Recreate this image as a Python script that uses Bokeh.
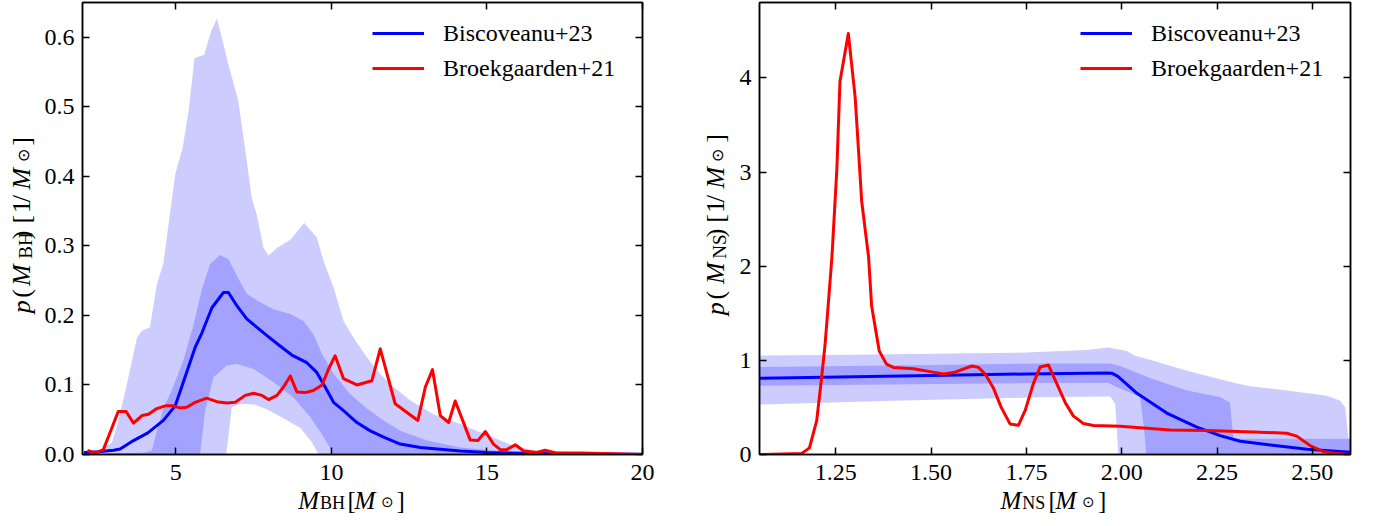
import math
from bokeh.plotting import figure
from bokeh.models import (LinearAxis, FixedTicker, PrintfTickFormatter, Label,
                          Legend, LegendItem, Range1d)
from bokeh.layouts import row, column
from bokeh.embed import file_html
from bokeh.resources import INLINE

FONT = "Liberation Serif"

# ---------------- left panel: black-hole mass ----------------
bh_blue_x = [2.05, 2.5, 3.0, 3.21, 3.64, 4.1, 4.6, 4.98, 5.24, 5.62, 5.84, 6.16, 6.53, 6.69,
             6.96, 7.28, 7.55, 7.93, 8.35, 8.73, 9.21, 9.53, 9.80, 10.07, 10.39, 10.82, 11.25,
             11.68, 12.21, 12.86, 14.14, 15.0, 17.0, 20.0]
bh_blue_y = [0.003, 0.004, 0.006, 0.008, 0.020, 0.031, 0.049, 0.070, 0.104, 0.154, 0.175, 0.211,
             0.233, 0.233, 0.214, 0.195, 0.185, 0.171, 0.156, 0.143, 0.132, 0.118, 0.097, 0.075,
             0.063, 0.046, 0.034, 0.025, 0.015, 0.010, 0.005, 0.003, 0.001, 0.0005]

bh_red_x = [2.16, 2.41, 2.67, 2.89, 3.15, 3.40, 3.64, 3.91, 4.12, 4.39, 4.66, 4.88, 5.14, 5.35,
            5.62, 5.99, 6.32, 6.64, 6.91, 7.23, 7.50, 7.77, 7.98, 8.25, 8.46, 8.68, 8.89, 9.16,
            9.42, 9.70, 9.91, 10.12, 10.39, 10.82, 11.30, 11.57, 12.05, 12.78, 13.02, 13.25,
            13.50, 13.77, 13.98, 14.46, 14.71, 14.95, 15.21, 15.43, 15.64, 15.91, 16.18, 16.6,
            16.87, 17.25, 18.0, 19.0, 20.0]
bh_red_y = [0.006, 0.002, 0.007, 0.032, 0.062, 0.062, 0.045, 0.056, 0.058, 0.066, 0.070, 0.070,
            0.067, 0.068, 0.075, 0.081, 0.076, 0.074, 0.075, 0.085, 0.088, 0.085, 0.079, 0.085,
            0.097, 0.113, 0.090, 0.089, 0.092, 0.100, 0.123, 0.142, 0.109, 0.100, 0.106, 0.152,
            0.073, 0.049, 0.097, 0.122, 0.056, 0.046, 0.077, 0.021, 0.020, 0.033, 0.015, 0.007,
            0.007, 0.014, 0.005, 0.003, 0.006, 0.002, 0.002, 0.001, 0.0]

bh_outer_hi_x = [2.0, 2.5, 2.94, 3.1, 3.37, 3.64, 3.75, 3.91, 4.17, 4.39, 4.6, 4.98, 5.22, 5.41,
                 5.60, 5.91, 6.13, 6.32, 6.48, 6.69, 7.01, 7.28, 7.44, 7.60, 7.82, 7.98, 8.25,
                 8.68, 9.13, 9.53, 9.75, 10.07, 10.39, 10.77, 11.14, 11.46, 11.89, 12.53, 13.28,
                 14.14, 15.43, 15.85, 16.5, 18.0, 20.0]
bh_outer_hi_y = [0.004, 0.006, 0.017, 0.04, 0.09, 0.145, 0.168, 0.178, 0.183, 0.245, 0.275, 0.403,
                 0.441, 0.494, 0.570, 0.575, 0.608, 0.627, 0.599, 0.561, 0.508, 0.422, 0.369,
                 0.345, 0.297, 0.286, 0.297, 0.309, 0.333, 0.312, 0.278, 0.240, 0.192, 0.164,
                 0.140, 0.121, 0.101, 0.078, 0.058, 0.044, 0.020, 0.013, 0.006, 0.003, 0.002]
bh_outer_lo_x = [2.0, 6.62, 6.8, 7.07, 7.5, 7.93, 8.46, 9.0, 9.37, 9.59, 20.0]
bh_outer_lo_y = [0.0, 0.0, 0.068, 0.073, 0.072, 0.065, 0.052, 0.038, 0.018, 0.0, 0.0]

bh_inner_hi_x = [2.0, 3.5, 4.0, 4.23, 4.39, 4.6, 4.87, 5.24, 5.57, 5.84, 6.1, 6.42, 6.69, 6.96,
                 7.28, 7.71, 8.14, 8.68, 9.1, 9.42, 9.7, 10.07, 10.6, 11.14, 11.68, 12.21, 13.07,
                 14.14, 16.0, 20.0]
bh_inner_hi_y = [0.001, 0.002, 0.003, 0.006, 0.034, 0.066, 0.092, 0.135, 0.187, 0.238, 0.274,
                 0.287, 0.281, 0.257, 0.231, 0.219, 0.209, 0.202, 0.192, 0.173, 0.144, 0.116,
                 0.087, 0.066, 0.049, 0.034, 0.020, 0.010, 0.003, 0.001]
bh_inner_lo_x = [2.0, 5.78, 5.94, 6.21, 6.64, 6.96, 7.5, 8.14, 8.78, 9.32, 9.75, 10.07, 20.0]
bh_inner_lo_y = [0.0, 0.0, 0.063, 0.111, 0.128, 0.130, 0.123, 0.104, 0.082, 0.054, 0.025, 0.0, 0.0]

# ---------------- right panel: neutron-star mass ----------------
ns_blue_x = [1.05, 1.3, 1.5, 1.75, 1.96, 1.975, 1.99, 2.04, 2.118, 2.197, 2.258, 2.311, 2.39,
             2.486, 2.6]
ns_blue_y = [0.81, 0.825, 0.84, 0.855, 0.865, 0.862, 0.83, 0.65, 0.44, 0.29, 0.20, 0.14, 0.10,
             0.055, 0.025]

ns_red_x = [1.051, 1.161, 1.181, 1.200, 1.213, 1.222, 1.231, 1.240, 1.253, 1.261, 1.283, 1.301,
            1.318, 1.336, 1.344, 1.364, 1.383, 1.401, 1.454, 1.497, 1.532, 1.559, 1.607, 1.624,
            1.642, 1.663, 1.684, 1.707, 1.729, 1.747, 1.768, 1.786, 1.808, 1.830, 1.852, 1.873,
            1.899, 1.926, 1.996, 2.066, 2.127, 2.223, 2.346, 2.433, 2.459, 2.494, 2.529, 2.564,
            2.6]
ns_red_y = [0.0, 0.01, 0.07, 0.36, 0.82, 1.17, 1.63, 2.1, 3.04, 3.96, 4.47, 3.79, 2.69, 2.1,
            1.58, 1.10, 0.96, 0.925, 0.91, 0.88, 0.855, 0.87, 0.94, 0.925, 0.855, 0.71, 0.50,
            0.325, 0.31, 0.47, 0.75, 0.93, 0.95, 0.75, 0.55, 0.41, 0.33, 0.307, 0.30, 0.28,
            0.26, 0.255, 0.24, 0.225, 0.195, 0.095, 0.03, 0.01, 0.0]

ns_outer_hi_x = [1.05, 1.3, 1.5, 1.733, 1.909, 1.965, 2.013, 2.035, 2.083, 2.171, 2.276, 2.328,
                 2.433, 2.538, 2.573, 2.586, 2.595, 2.6]
ns_outer_hi_y = [1.05, 1.06, 1.07, 1.08, 1.11, 1.135, 1.10, 1.05, 0.995, 0.89, 0.78, 0.73, 0.68,
                 0.625, 0.57, 0.50, 0.17, 0.17]
ns_outer_lo_x = [1.05, 1.4, 1.782, 1.97, 1.983, 1.991, 2.6]
ns_outer_lo_y = [0.53, 0.57, 0.607, 0.615, 0.537, 0.0, 0.0]

ns_inner_hi_x = [1.05, 1.5, 1.782, 1.970, 1.996, 2.083, 2.171, 2.258, 2.284, 2.293, 2.6]
ns_inner_hi_y = [0.93, 0.95, 0.967, 0.967, 0.94, 0.80, 0.68, 0.61, 0.55, 0.166, 0.166]
ns_inner_lo_x = [1.05, 1.782, 1.965, 1.985, 2.02, 2.048, 2.058, 2.064, 2.6]
ns_inner_lo_y = [0.73, 0.76, 0.76, 0.72, 0.66, 0.61, 0.30, 0.0, 0.0]

bh_xticks = [5, 10, 15, 20]
bh_yticks = [0.0, 0.1, 0.2, 0.3, 0.4, 0.5, 0.6]
ns_xticks = [1.25, 1.50, 1.75, 2.00, 2.25, 2.50]
ns_yticks = [0, 1, 2, 3, 4]

LABEL_BLUE = "Biscoveanu+23"
LABEL_RED = "Broekgaarden+21"

FRAME_H = 452
TOP_B = 2
BOT_B = 9
MAIN_H = TOP_B + FRAME_H + BOT_B       # 463
XS_H = 520 - MAIN_H                     # strip under the plots
YSCALE = FRAME_H / 453.0
SHIFT = 9                               # baseline correction for composed titles


def style_axis(ax, ticks, fmt, show_labels=True, standoff=8):
    ax.ticker = FixedTicker(ticks=ticks)
    ax.formatter = PrintfTickFormatter(format=fmt)
    ax.major_tick_in = 7
    ax.major_tick_out = 0
    ax.minor_tick_line_color = None
    ax.major_tick_line_width = 1.5
    ax.major_tick_line_color = "black"
    ax.axis_line_width = 1.5
    ax.axis_line_color = "black"
    if show_labels:
        ax.major_label_text_font = FONT
        ax.major_label_text_font_size = "24px"
        ax.major_label_text_color = "black"
        ax.major_label_standoff = standoff
    else:
        ax.major_label_text_font_size = "0px"
        ax.major_label_standoff = 0
        ax.major_label_text_alpha = 0


def make_fig(xr, yr, xticks, yticks, xfmt, yfmt, fw, bl, br):
    p = figure(frame_width=fw, frame_height=FRAME_H, x_range=Range1d(*xr), y_range=Range1d(*yr),
               output_backend="svg", toolbar_location=None,
               min_border_left=bl, min_border_right=br, min_border_top=TOP_B,
               min_border_bottom=BOT_B)
    p.grid.visible = False
    p.outline_line_color = "black"
    p.outline_line_width = 1.5
    p.background_fill_color = "white"
    p.border_fill_color = "white"
    style_axis(p.xaxis[0], xticks, xfmt, False)
    style_axis(p.yaxis[0], yticks, yfmt, True, 8)
    top = LinearAxis()
    style_axis(top, xticks, xfmt, False)
    p.add_layout(top, "above")
    right = LinearAxis()
    style_axis(right, yticks, yfmt, False)
    p.add_layout(right, "right")
    return p


def blank(w, h):
    f = figure(width=w, height=h, x_range=Range1d(0, w), y_range=Range1d(0, h),
               output_backend="svg", toolbar_location=None,
               x_axis_location=None, y_axis_location=None,
               min_border=0, min_border_left=0, min_border_right=0,
               min_border_top=0, min_border_bottom=0)
    f.grid.visible = False
    f.outline_line_color = None
    f.background_fill_color = "white"
    f.border_fill_color = "white"
    return f


def strip(xr, xticks, xfmt, fw, bl, br):
    # same horizontal scale as the panel above, frame extended over the right border
    span = (xr[1] - xr[0]) / fw
    f = figure(frame_width=fw + br, frame_height=XS_H,
               x_range=Range1d(xr[0], xr[1] + br * span), y_range=Range1d(0, XS_H),
               output_backend="svg", toolbar_location=None,
               x_axis_location=None, y_axis_location=None,
               min_border_left=bl, min_border_right=0, min_border_top=0, min_border_bottom=0)
    f.grid.visible = False
    f.outline_line_color = None
    f.background_fill_color = "white"
    f.border_fill_color = "white"
    ax = LinearAxis(fixed_location=XS_H)
    # tick labels sit 8px under the panel frame, which ends BOT_B-2 px above this strip
    style_axis(ax, xticks, xfmt, True, max(0, 8 - (BOT_B - 2)))
    ax.axis_line_color = None
    ax.major_tick_line_color = None
    f.add_layout(ax, "below")
    return f


def piece(p, text, x, y, size=24, italic=False, angle=0.0):
    p.add_layout(Label(x=x, y=y, text=text,
                       text_font=FONT, text_font_size=f"{size}px",
                       text_font_style="italic" if italic else "normal",
                       text_color="black", text_align="left", text_baseline="alphabetic",
                       angle=angle))


def xlabel(f, x0, fw, xr, sub, starts):
    ly = lambda py: MAIN_H + XS_H - py + SHIFT
    dx = lambda px: xr[0] + (px - x0) / fw * (xr[1] - xr[0])
    m1, s1, br1, m2, od, br2 = starts
    piece(f, "M", dx(m1), ly(508.7), 25, True)
    piece(f, sub, dx(s1), ly(511.5), 18)
    piece(f, "[", dx(br1), ly(508.7), 25)
    piece(f, "M", dx(m2), ly(508.7), 25, True)
    piece(f, "\u2299", dx(od), ly(510.0), 15)
    piece(f, "]", dx(br2), ly(508.7), 25)


def ylabel(f, x0, base_px, sub, starts):
    a = math.pi / 2
    bx = base_px - x0 - SHIFT
    ly = lambda py: MAIN_H - (454 - (454 - py) * YSCALE)
    texts = [("p", True, 26, 0), ("(", False, 26, 0), ("M", True, 26, 0), (sub, False, 19, 3.5),
             (")", False, 26, 0), ("[", False, 26, 0), ("1", False, 26, 0), ("/", False, 26, 0),
             ("M", True, 26, 0), ("\u2299", False, 16, 2.0), ("]", False, 26, 0)]
    for (t, it, sz, dx), py in zip(texts, starts):
        piece(f, t, bx + dx, ly(py), sz, it, a)


def band(p, hx, hy, lx, ly):
    xs = list(hx) + list(reversed(lx))
    ys = list(hy) + list(reversed(ly))
    p.patch(xs, ys, fill_color="#0000ff", fill_alpha=0.2, line_color=None)


def legend(p, rb, rr, lx, ly):
    leg = Legend(items=[LegendItem(label=LABEL_BLUE, renderers=[rb]),
                        LegendItem(label=LABEL_RED, renderers=[rr])],
                 location=(lx, ly), glyph_width=52, glyph_height=30, label_height=30,
                 label_standoff=19, spacing=5, padding=0, margin=0,
                 border_line_color=None, background_fill_alpha=0,
                 label_text_font=FONT, label_text_font_size="24px", label_text_color="black")
    p.add_layout(leg)


# ---- left panel ----
YL1_W = 41
BH_XR = (2, 20)
p1 = make_fig(BH_XR, (0, 0.65), bh_xticks, bh_yticks, "%d", "%.1f", 560, 82 - YL1_W, 20)
band(p1, bh_outer_hi_x, bh_outer_hi_y, bh_outer_lo_x, bh_outer_lo_y)
band(p1, bh_inner_hi_x, bh_inner_hi_y, bh_inner_lo_x, bh_inner_lo_y)
rb1 = p1.line(bh_blue_x, bh_blue_y, line_color="#0000ff", line_width=3, line_join="round")
rr1 = p1.line(bh_red_x, bh_red_y, line_color="#ff0000", line_width=3, line_join="round")
legend(p1, rb1, rr1, 290, FRAME_H - 81)

yl1 = blank(YL1_W, MAIN_H)
ylabel(yl1, 0, 30, "BH", (318, 302, 290, 262, 242, 226, 215, 204, 191, 163, 146))

xs1 = strip(BH_XR, bh_xticks, "%d", 560, 82, 20)
xlabel(xs1, 82, 560, BH_XR, "BH", (297.7, 319.5, 347.0, 354.0, 380.0, 396.0))

# ---- right panel ----
YL2_X0 = 662
YL2_W = 735 - YL2_X0
NS_XR = (1.05, 2.6)
p2 = make_fig(NS_XR, (0, 4.8), ns_xticks, ns_yticks, "%.2f", "%d", 591, 759 - 735, 15)
band(p2, ns_outer_hi_x, ns_outer_hi_y, ns_outer_lo_x, ns_outer_lo_y)
band(p2, ns_inner_hi_x, ns_inner_hi_y, ns_inner_lo_x, ns_inner_lo_y)
rb2 = p2.line(ns_blue_x, ns_blue_y, line_color="#0000ff", line_width=3, line_join="round")
rr2 = p2.line(ns_red_x, ns_red_y, line_color="#ff0000", line_width=3, line_join="round")
legend(p2, rb2, rr2, 321, FRAME_H - 81)

yl2 = blank(YL2_W, MAIN_H)
ylabel(yl2, YL2_X0, 724, "NS", (320, 304, 288, 262, 240, 225, 215, 204, 190, 163, 143))

xs2 = strip(NS_XR, ns_xticks, "%.2f", 591, 759 - 662, 15)
xlabel(xs2, 759, 591, NS_XR, "NS", (1000.0, 1021.7, 1048.0, 1055.0, 1081.5, 1097.5))

layout = column(row(yl1, p1, yl2, p2), row(xs1, xs2))
open("out.html", "w").write(file_html(layout, INLINE))
